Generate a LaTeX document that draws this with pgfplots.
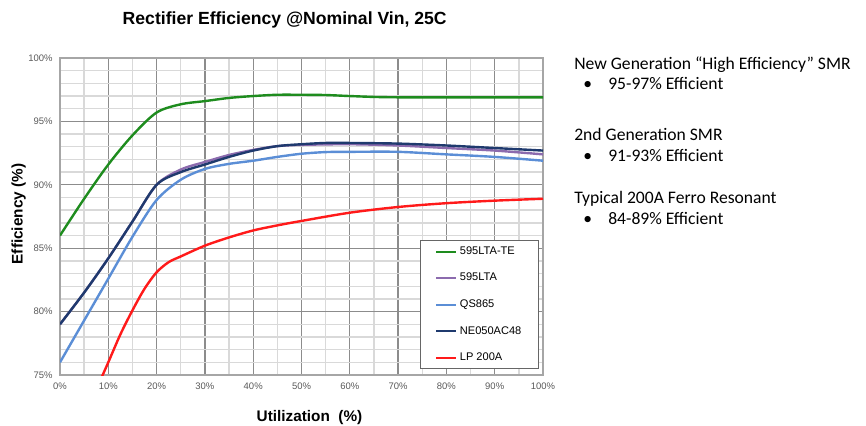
\documentclass[border=0pt]{standalone}
\usepackage{pgfplots}
\pgfplotsset{compat=1.18}
\usepackage{fontspec}
\setmainfont{Liberation Sans}
\newfontfamily\calibri{Carlito}
\definecolor{cgreen}{HTML}{1E8C1E}
\definecolor{cpurple}{HTML}{8C6BAE}
\definecolor{clblue}{HTML}{5B8ED6}
\definecolor{cnavy}{HTML}{1F3A6E}
\definecolor{cred}{HTML}{FF1A1A}
\definecolor{ctick}{HTML}{595959}
\begin{document}
\begin{tikzpicture}[x=0.75pt,y=0.75pt]
\path[use as bounding box] (0,0) rectangle (866,425);
\begin{axis}[
  at={(45pt,37.5pt)}, anchor=south west,
  scale only axis, width=362.25pt, height=237.75pt,
  xmin=0, xmax=100, ymin=75, ymax=100,
  xtick={0,10,20,30,40,50,60,70,80,90,100}, ytick={75,80,85,90,95,100},
  minor xtick={5,15,25,35,45,55,65,75,85,95},
  minor ytick={76,77,78,79,81,82,83,84,86,87,88,89,91,92,93,94,96,97,98,99},
  grid=both,
  major grid style={draw=gray!90, line width=1pt},
  minor grid style={draw=gray!30, line width=1pt},
  axis line style={draw=gray!70, line width=1pt},
  major tick length=0pt, minor tick length=0pt,
  /pgf/number format/assume math mode=true,
  xticklabel={\pgfmathprintnumber{\tick}\%},
  yticklabel={\pgfmathprintnumber{\tick}\%},
  ticklabel style={font=\fontsize{7.1}{8}\selectfont, text=ctick},
  xticklabel style={yshift=-2.5pt},
  yticklabel style={xshift=-2pt},
  legend style={at={(0.992,0.019)}, anchor=south east, draw=gray!80!black, line width=0.6pt,
    fill=white, font=\fontsize{8.3}{10}\selectfont, row sep=8.6pt, inner xsep=11pt, inner ysep=2.5pt,
    /tikz/every even column/.append style={column sep=-1.5pt}},
  legend cell align=left,
  legend image code/.code={\draw[#1,line width=1.5pt] (0pt,0pt) -- (15pt,0pt);},
  every axis plot/.append style={line width=1.8pt, smooth},
]
\addplot[cgreen] coordinates {(0,86.0) (5,88.9) (10,91.6) (15,93.9) (20,95.7) (25,96.35) (30,96.6) (35,96.85) (40,97.0) (45,97.1) (50,97.1) (55,97.08) (60,97.0) (65,96.93) (70,96.9) (80,96.9) (90,96.9) (100,96.9)};
\addlegendentry{595LTA-TE}
\addplot[cpurple] coordinates {(0,79.0) (5,81.5) (10,84.2) (15,87.1) (20,90.0) (25,91.2) (30,91.8) (35,92.35) (40,92.75) (45,93.05) (50,93.15) (60,93.2) (70,93.1) (80,92.9) (90,92.7) (100,92.4)};
\addlegendentry{595LTA}
\addplot[clblue] coordinates {(0,76.0) (5,79.3) (10,82.6) (15,85.9) (20,88.8) (25,90.4) (30,91.25) (35,91.65) (40,91.9) (45,92.2) (50,92.45) (55,92.58) (60,92.6) (70,92.6) (80,92.4) (90,92.2) (100,91.9)};
\addlegendentry{QS865}
\addplot[cnavy] coordinates {(0,79.0) (5,81.5) (10,84.2) (15,87.1) (20,90.0) (25,91.0) (30,91.6) (35,92.2) (40,92.7) (45,93.05) (50,93.2) (55,93.3) (60,93.3) (70,93.25) (80,93.1) (90,92.9) (100,92.7)};
\addlegendentry{NE050AC48}
\addplot[cred] coordinates {(8.6,74.8) (10,76.0) (12.5,78.2) (15,80.1) (17.5,81.8) (20,83.1) (22.5,83.9) (25,84.35) (30,85.2) (35,85.85) (40,86.4) (45,86.8) (50,87.15) (60,87.8) (70,88.25) (80,88.55) (90,88.75) (100,88.9)};
\addlegendentry{LP 200A}
\end{axis}
\node[anchor=base, font=\bfseries\fontsize{13.2}{15}\selectfont] at (284.7,400) {Rectifier Efficiency @Nominal Vin, 25C};
\node[anchor=base, font=\bfseries\fontsize{11.5}{13}\selectfont] at (309.5,4) {Utilization\ \ (\%)};
\node[anchor=base, rotate=90, font=\bfseries\fontsize{11.5}{13}\selectfont] at (22.5,211) {Efficiency (\%)};
\begin{scope}[every node/.style={anchor=base west, inner sep=0pt, font=\calibri\fontsize{13.2}{15}\selectfont}]
\node at (574,355.7) {New Generation “High Efficiency” SMR};
\node at (583,335) {•};
\node at (608,335) {95-97\% Efficient};
\node at (574,284.3) {2nd Generation SMR};
\node at (583,263.3) {•};
\node at (608,263.3) {91-93\% Efficient};
\node at (574,221.7) {Typical 200A Ferro Resonant};
\node at (583,200.7) {•};
\node at (608,200.7) {84-89\% Efficient};
\end{scope}
\end{tikzpicture}
\end{document}
